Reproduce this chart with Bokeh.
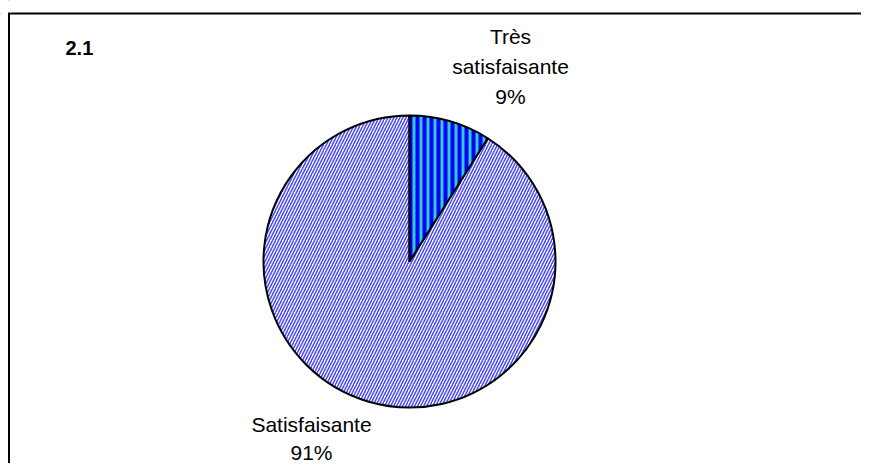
import numpy as np
from bokeh.plotting import figure
from bokeh.models import Range1d, ColumnDataSource, Span
from bokeh.core.properties import value
from bokeh.embed import file_html
from bokeh.resources import INLINE

chart_title = "2.1"
categories = ["Très satisfaisante", "Satisfaisante"]
label_names = ["Très\nsatisfaisante", "Satisfaisante"]
shares = [9, 91]

W, H = 861, 463
p = figure(width=W, height=H, output_backend="svg", toolbar_location=None,
           x_range=Range1d(0, W), y_range=Range1d(0, H), min_border=0, tools="",
           x_axis_location=None, y_axis_location=None)
p.xgrid.visible = False
p.ygrid.visible = False
p.outline_line_color = None
p.background_fill_color = "white"
p.border_fill_color = "white"

# chart frame (only top and left edges visible)
p.add_layout(Span(location=8.5, dimension="height", line_color="black",
                  line_width=2, level="underlay"))
p.add_layout(Span(location=450, dimension="width", line_color="black",
                  line_width=2, level="underlay"))
# hide the frame lines' overhang outside the chart corner
p.quad(left=[-1, 6], right=[7.5, 11], bottom=[448, 451], top=[452, 464],
       fill_color="white", line_color=None)

cx, cy, r = 409, 202, 146
vals = np.array(shares, dtype=float)
frac = vals / vals.sum()
cum = np.cumsum(frac)
start = np.pi / 2 - 2 * np.pi * (cum - frac)
end = np.pi / 2 - 2 * np.pi * cum

src_a = ColumnDataSource(dict(x=[cx], y=[cy], start=[start[0]], end=[end[0]]))
src_b = ColumnDataSource(dict(x=[cx], y=[cy], start=[start[1]], end=[end[1]]))
p.wedge(x="x", y="y", radius=r, start_angle="start", end_angle="end",
        direction="clock", source=src_b, fill_color="white",
        hatch_pattern="/", hatch_color="#4848FF", hatch_scale=6, hatch_weight=1.5,
        line_color="black", line_width=2)
p.wedge(x="x", y="y", radius=r, start_angle="start", end_angle="end",
        direction="clock", source=src_a, fill_color="#33CCCC",
        hatch_pattern="|", hatch_color="#0000FF", hatch_scale=7, hatch_weight=4,
        line_color="black", line_width=2)

# labels
label_pos = [(cx + 101, cy + 195), (cx - 98, cy - 177)]
line_heights = [1.29, 1.19]
for (lx, ly), name, s, lh in zip(label_pos, label_names, shares, line_heights):
    p.text(x=[lx], y=[ly], text=[f"{name}\n{s}%"],
           text_font=value("Liberation Sans"), text_font_size="21px",
           text_align="center", text_baseline="middle", text_line_height=lh,
           text_color="black")

p.text(x=[65], y=[416], text=[chart_title], text_font=value("Liberation Sans"),
       text_font_size="20px", text_font_style="bold", text_align="left",
       text_baseline="middle", text_color="black")

open("out.html", "w").write(file_html(p, INLINE))
